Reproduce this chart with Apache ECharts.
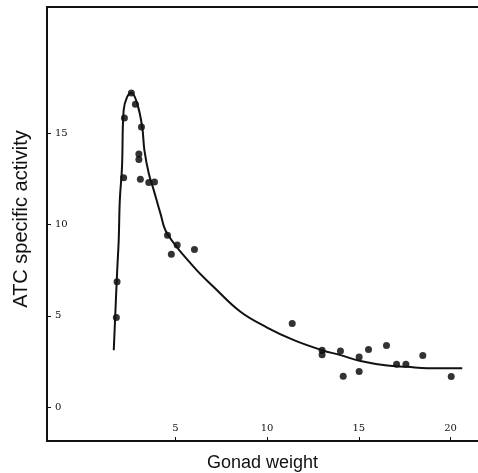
<!DOCTYPE html>
<html>
<head>
<meta charset="utf-8">
<script src="https://cdn.jsdelivr.net/npm/echarts@6/dist/echarts.min.js"></script>
<style>html,body{margin:0;padding:0;background:#fff}#c{width:478px;height:473px}</style>
</head>
<body>
<div id="c"></div>
<script>
// Observed data points (gonad weight, ATC specific activity)
const pointX = [1.78, 1.82, 2.18, 2.22, 2.60, 2.82, 3.15, 3.01, 3.01, 3.09, 3.55, 3.86, 4.57, 5.10, 4.78, 6.04, 11.37, 13.0, 13.0, 14.0, 14.15, 15.02, 15.02, 15.53, 16.51, 17.06, 17.57, 18.49, 20.04];
const pointY = [4.91, 6.86, 12.56, 15.83, 17.2, 16.58, 15.33, 13.85, 13.55, 12.48, 12.3, 12.33, 9.41, 8.87, 8.37, 8.63, 4.58, 3.12, 2.87, 3.07, 1.70, 2.75, 1.95, 3.16, 3.38, 2.35, 2.35, 2.83, 1.68];
// Fitted curve
const curveX = [1.64, 1.82, 1.91, 1.97, 2.09, 2.18, 2.37, 2.60, 2.91, 3.19, 3.31, 3.55, 3.82, 4.18, 4.55, 6.0, 7.09, 8.55, 10.0, 11.46, 13.0, 14.0, 15.09, 16.55, 17.64, 18.73, 20.64];
const curveY = [3.12, 7.33, 9.14, 11.33, 13.15, 16.26, 16.98, 17.21, 16.64, 15.34, 14.07, 12.79, 11.88, 10.62, 9.51, 7.68, 6.58, 5.22, 4.36, 3.67, 3.12, 2.85, 2.53, 2.28, 2.21, 2.13, 2.13];
const xTicks = [5, 10, 15, 20];
const yTicks = [0, 5, 10, 15];

const chart = echarts.init(document.getElementById('c'), null, {renderer: 'canvas'});
const tickFont = {color: '#111', fontFamily: 'DejaVu Serif', fontSize: 10};
chart.setOption({
  animation: false,
  backgroundColor: '#fff',
  grid: {left: 47, top: 7, right: 0, bottom: 32, containLabel: false, outerBoundsMode: 'none'},
  xAxis: [{
    type: 'value', min: -2, max: 21.5, position: 'bottom',
    name: 'Gonad weight', nameLocation: 'middle', nameGap: 13,
    nameTextStyle: {color: '#111', fontFamily: 'Liberation Sans', fontSize: 18},
    axisLine: {show: true, onZero: false, lineStyle: {color: '#111', width: 2}},
    axisTick: {show: true, inside: true, length: 4, customValues: xTicks, lineStyle: {color: '#111', width: 1}},
    axisLabel: Object.assign({show: true, inside: true, margin: 8, customValues: xTicks}, tickFont),
    splitLine: {show: false}
  }, {
    type: 'value', min: -2, max: 21.5, position: 'top',
    axisLine: {show: true, onZero: false, lineStyle: {color: '#111', width: 2}},
    axisTick: {show: false}, axisLabel: {show: false}, splitLine: {show: false}
  }],
  yAxis: {
    type: 'value', min: -1.85, max: 21.9,
    name: 'ATC specific activity', nameLocation: 'middle', nameGap: 16,
    nameTextStyle: {color: '#111', fontFamily: 'Liberation Sans', fontSize: 20, padding: [0, 0, 0, 10]},
    axisLine: {show: true, onZero: false, lineStyle: {color: '#111', width: 2}},
    axisTick: {show: true, inside: true, length: 4, customValues: yTicks, lineStyle: {color: '#111', width: 1}},
    axisLabel: Object.assign({show: true, inside: true, margin: 8, customValues: yTicks}, tickFont),
    splitLine: {show: false}
  },
  series: [{
    type: 'line', xAxisIndex: 0,
    data: curveX.map((x, i) => [x, curveY[i]]),
    smooth: 0.4, showSymbol: false, symbol: 'none',
    lineStyle: {color: '#111', width: 2}
  }, {
    type: 'scatter', xAxisIndex: 0,
    data: pointX.map((x, i) => [x, pointY[i]]),
    symbol: 'circle', symbolSize: 7,
    itemStyle: {color: '#000'}
  }]
});
</script>
</body>
</html>
